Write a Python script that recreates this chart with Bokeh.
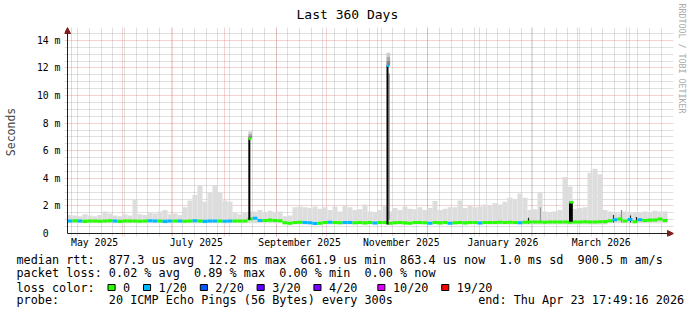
import re
import pandas as pd
from bokeh.plotting import figure
from bokeh.models import (FixedTicker, Grid, Arrow, NormalHead, Range1d, ColumnDataSource, Title)
from bokeh.embed import file_html
from bokeh.resources import INLINE

FONT = "DejaVu Sans Mono"

# ---------------- data ----------------
start = pd.Timestamp("2025-04-28 17:49:16")
end = pd.Timestamp("2026-04-23 17:49:16")
bucket_days = 3  # one value every 3 days

# smoke (ping spread) upper edge, ms, per 3-day bucket
smoke_top = [1.35, 1.3, 1.25, 1.4, 1.3, 1.25, 1.35, 1.6, 1.45, 1.3,
             1.25, 1.4, 1.3, 2.45, 1.4, 1.35, 1.5, 1.45, 1.6, 1.7,
             1.4, 1.45, 1.35, 1.9, 2.4, 2.8, 3.5, 2.3, 3.0, 3.5,
             3.0, 2.4, 2.3, 1.5, 1.4, 1.5, 1.6, 1.6, 1.7, 1.5,
             1.65, 1.55, 1.6, 1.25, 1.3, 1.9, 1.95, 1.9, 1.85, 1.95,
             1.8, 1.9, 1.7, 1.95, 1.6, 2.0, 1.9, 1.7, 1.75, 2.1,
             1.6, 1.55, 1.7, 2.0, 1.6, 1.85, 1.7, 1.95, 1.8, 1.75,
             1.9, 1.7, 1.85, 2.35, 1.7, 1.8, 1.9, 1.9, 2.4, 1.85,
             2.0, 1.9, 1.95, 2.1, 2.0, 2.2, 2.1, 2.3, 2.6, 2.5,
             2.9, 2.6, 1.7, 1.75, 3.0, 1.6, 1.55, 1.6, 1.7, 4.1,
             3.4, 1.8, 1.85, 1.9, 4.4, 4.7, 4.3, 1.7, 1.6, 1.5,
             1.45, 1.6, 1.5, 1.55, 1.5, 1.6, 1.55, 1.65, 1.6, 1.6]
# smoke lower edge, ms
smoke_min = [0.75] * 43 + [0.65] * 65 + [0.75] * 12
# median rtt, ms
median = [0.9, 0.92, 0.9, 0.88, 0.9, 0.91, 0.89, 0.9, 0.92, 0.9,
          0.88, 0.9, 0.91, 0.9, 0.89, 0.9, 0.92, 0.9, 0.9, 0.88,
          0.9, 0.91, 0.9, 0.89, 0.9, 0.92, 0.9, 0.88, 0.9, 0.91,
          0.9, 0.89, 0.9, 0.9, 0.91, 0.9, 1.05, 1.1, 0.95, 0.95,
          0.97, 0.95, 0.93, 0.78, 0.75, 0.8, 0.82, 0.8, 0.78, 0.72,
          0.75, 0.8, 0.82, 0.8, 0.78, 0.8, 0.8, 0.78, 0.8, 0.77,
          0.8, 0.76, 0.79, 0.8, 0.74, 0.78, 0.8, 0.77, 0.75, 0.79,
          0.8, 0.78, 0.74, 0.79, 0.77, 0.8, 0.75, 0.78, 0.8, 0.77,
          0.79, 0.8, 0.76, 0.8, 0.79, 0.8, 0.82, 0.8, 0.81, 0.8,
          0.78, 0.82, 0.83, 0.84, 0.83, 0.82, 0.83, 0.84, 0.83, 0.84,
          0.82, 0.84, 0.83, 0.85, 0.84, 0.83, 0.85, 0.86, 0.92, 1.0,
          1.05, 0.9, 1.02, 0.85, 1.0, 0.95, 0.97, 0.98, 1.05, 0.95]
# packet loss level index per bucket (0 -> 0/20, 1 -> 1/20)
loss = [1, 0, 1, 0, 0, 0, 0, 0, 0, 1, 0, 0, 0, 0, 0, 0, 1, 1, 0, 1,
        1, 0, 1, 0, 0, 1, 0, 1, 1, 1, 0, 1, 1, 0, 0, 0, 0, 1, 1, 0,
        0, 0, 0, 0, 0, 0, 0, 1, 1, 1, 0, 0, 1, 0, 0, 1, 1, 0, 0, 0,
        0, 1, 0, 0, 0, 0, 0, 0, 0, 0, 0, 0, 1, 0, 0, 0, 1, 0, 0, 0,
        0, 0, 1, 0, 0, 0, 0, 0, 0, 0, 1, 0, 0, 0, 0, 0, 0, 0, 0, 0,
        0, 0, 0, 0, 0, 0, 0, 0, 0, 1, 0, 0, 1, 0, 1, 0, 0, 0, 0, 0]

loss_labels = ["0", "1/20", "2/20", "3/20", "4/20", "10/20", "19/20"]
loss_colors = ["#26ff00", "#00b8ff", "#0059ff", "#5e00ff", "#7e00ff", "#dd00ff", "#ff0000"]

# short latency spikes (day offset from start)
spike_day = [109.1, 192.0, 301.5, 302.6]
spike_low = [1.0, 0.65, 0.85, 0.85]
spike_high = [6.9, 12.2, 2.3, 2.3]
spike_loss = [0, 1, 0, 0]
spike_smoke_top = [7.4, 13.1, 2.3, 2.3]

# darker smoke streaks
dark_day = [193.0, 276.6, 283.8, 327.6, 332.4, 337.8, 341.4]
dark_low = [1.0, 0.72, 0.85, 0.8, 0.8, 0.8, 0.85]
dark_high = [11.6, 1.15, 1.9, 1.35, 1.7, 1.3, 1.2]
dark_color = ["#8a8a8a", "#222222", "#9a9a9a", "#333333", "#8a8a8a", "#333333", "#222222"]

y_major = [0, 2, 4, 6, 8, 10, 12, 14]
y_major_labels = ["0\u00a0\u00a0", "2 m", "4 m", "6 m", "8 m", "10 m", "12 m", "14 m"]
y_minor = [0.5, 1, 1.5, 2.5, 3, 3.5, 4.5, 5, 5.5, 6.5, 7, 7.5, 8.5, 9, 9.5,
           10.5, 11, 11.5, 12.5, 13, 13.5, 14.5]

label_dates = ["2025-05-15", "2025-07-15", "2025-09-15", "2025-11-15", "2026-01-15", "2026-03-15"]
label_texts = ["May 2025", "July 2025", "September 2025", "November 2025", "January 2026", "March 2026"]

title_text = "Last 360 Days"
credit_text = "RRDTOOL / TOBI OETIKER"
stats_line = "median rtt:  877.3 us avg  12.2 ms max  661.9 us min  863.4 us now  1.0 ms sd  900.5 m am/s"
loss_line = "packet loss: 0.02 % avg  0.89 % max  0.00 % min  0.00 % now"
loss_title = "loss color:"
probe_line = "probe:       20 ICMP Echo Pings (56 Bytes) every 300s            end: Thu Apr 23 17:49:16 2026"


def keep_spaces(s):
    return re.sub(r" {2,}", lambda m: "\u00a0" * len(m.group()), s)


def day_of(ts):
    return round((pd.Timestamp(ts) - start) / pd.Timedelta(days=1), 6)


span = day_of(end)
month_starts = [day_of(d) for d in pd.date_range("2025-05-01", "2026-04-01", freq="MS")]
week_starts = [day_of(d) for d in pd.date_range("2025-05-05", "2026-04-20", freq="7D")]
label_pos = [day_of(d) for d in label_dates]

# ---------------- layout geometry (pixels) ----------------
PX_PER_DAY = 600 / span
PX_PER_MS = 200 / 14.5
FL, FT, FW, FH = 64, 27, 609, 209          # frame left/top/width/height
x_lo = -(67 - FL) / PX_PER_DAY
x_hi = x_lo + FW / PX_PER_DAY
y_lo = -(FT + FH - 233) / PX_PER_MS
y_hi = y_lo + FH / PX_PER_MS

p = figure(width=697, height=315, frame_width=FW, frame_height=FH,
           x_range=Range1d(x_lo, x_hi), y_range=Range1d(y_lo, y_hi),
           output_backend="svg", toolbar_location=None,
           min_border_left=FL, min_border_right=697 - FL - FW, min_border_top=FT,
           min_border_bottom=315 - FT - FH,
           background_fill_color="white", border_fill_color="white", outline_line_color=None)
p.grid.visible = False

GRID_C = "#8f8f8f"
MGRID_C = "#de4f4f"
for dim, ticks, col, alpha in [(0, week_starts, GRID_C, 0.55), (1, y_minor, GRID_C, 0.55),
                               (0, month_starts, MGRID_C, 0.5), (1, y_major[1:], MGRID_C, 0.5)]:
    p.add_layout(Grid(dimension=dim, ticker=FixedTicker(ticks=ticks), grid_line_color=col,
                      grid_line_alpha=alpha, grid_line_dash="1 1", grid_line_width=1))

left = [i * bucket_days for i in range(len(smoke_top))]
right = [l + bucket_days for l in left]
src = ColumnDataSource(dict(
    left=left, right=right, smin=smoke_min, stop=smoke_top,
    mlo=[m - 0.11 for m in median], mhi=[m + 0.11 for m in median],
    color=[loss_colors[l] for l in loss]))

p.quad(left="left", right="right", bottom="smin", top="stop", source=src,
       fill_color="#dddddd", line_color=None)

# smoke gradient above spikes
sg_l, sg_r, sg_b, sg_t, sg_c = [], [], [], [], []
for d, h, t in zip(spike_day, spike_high, spike_smoke_top):
    if t > h:
        step = (t - h) / 3
        for k, c in enumerate(["#888888", "#aaaaaa", "#cccccc"]):
            sg_l.append(d - 0.6); sg_r.append(d + 1.6)
            sg_b.append(h + k * step); sg_t.append(h + (k + 1) * step); sg_c.append(c)
p.quad(left=sg_l, right=sg_r, bottom=sg_b, top=sg_t, fill_color=sg_c, line_color=None)

p.segment(x0=dark_day, y0=dark_low, x1=dark_day, y1=dark_high, line_color=dark_color, line_width=1.2)

p.quad(left="left", right="right", bottom="mlo", top="mhi", source=src,
       fill_color="color", line_color=None)

p.segment(x0=spike_day, y0=spike_low, x1=spike_day, y1=spike_high, line_color="black", line_width=2)
p.quad(left=[d - 0.5 for d in spike_day], right=[d + 1.2 for d in spike_day],
       bottom=[h - 0.12 for h in spike_high], top=[h + 0.04 for h in spike_high],
       fill_color=[loss_colors[l] for l in spike_loss], line_color=None)

# ---------------- axes ----------------
p.yaxis.ticker = FixedTicker(ticks=y_major)
p.yaxis.major_label_overrides = {t: s for t, s in zip(y_major, y_major_labels)}
p.yaxis.minor_tick_line_color = None
p.yaxis.major_tick_line_color = None
p.yaxis.major_tick_out = 0
p.yaxis.major_tick_in = 0
p.yaxis.major_label_standoff = 4
p.yaxis.major_label_text_font = FONT
p.yaxis.major_label_text_font_size = "9.8px"
p.yaxis.major_label_text_color = "black"
p.yaxis.axis_label = "Seconds"
p.yaxis.axis_label_text_font = FONT
p.yaxis.axis_label_text_font_style = "normal"
p.yaxis.axis_label_text_font_size = "11.5px"
p.yaxis.axis_label_standoff = 16
p.yaxis.axis_line_color = None

p.xaxis.ticker = FixedTicker(ticks=label_pos)
p.xaxis.major_label_overrides = {t: s for t, s in zip(label_pos, label_texts)}
p.xaxis.minor_tick_line_color = None
p.xaxis.major_tick_line_color = None
p.xaxis.major_tick_out = 0
p.xaxis.major_tick_in = 0
p.xaxis.major_label_standoff = 0
p.xaxis.major_label_text_font = FONT
p.xaxis.major_label_text_font_size = "9.8px"
p.xaxis.major_label_text_color = "black"
p.xaxis.axis_line_color = None

# axis lines with arrow heads
head = dict(size=6, fill_color="#801f1f", line_color="#801f1f")
p.add_layout(Arrow(end=NormalHead(**head), x_start=0, y_start=0, x_end=0, y_end=y_hi,
                   line_color="#1f1f1f", line_width=1))
p.add_layout(Arrow(end=NormalHead(**head), x_start=0, y_start=0, x_end=x_hi, y_end=0,
                   line_color="#1f1f1f", line_width=1))

# ---------------- title and credit ----------------
p.title.text = title_text
p.title.align = "left"
p.title.offset = 296 - FL
p.title.standoff = 8.9
p.title.vertical_align = "middle"
p.title.text_font = FONT
p.title.text_font_size = "13px"
p.title.text_font_style = "normal"
p.title.text_color = "black"

p.add_layout(Title(text=credit_text, align="left", offset=3 - FT, standoff=3.9,
                   vertical_align="middle", text_font=FONT, text_font_size="8.3px",
                   text_font_style="normal", text_color="#aaaaaa"), "right")

# ---------------- legend rows below the x axis ----------------
TXT = "11.8px"
T_H = 13.7       # approx. text box height of the legend font
CHAR_W = 7.1     # monospace advance at that size


def row(text, standoff, x=16):
    return Title(text=text, align="left", offset=x - FL, standoff=standoff,
                 vertical_align="middle", text_font=FONT, text_font_size=TXT,
                 text_font_style="normal", text_color="black")


def spacer(size):
    return Title(text="\u00a0", text_font_size="1px", standoff=size - 3.16)


# loss color row: label columns (monospace) and boxes before each label
label_cols = [15, 20, 28, 36, 44, 53, 62]
loss_row = loss_title
for col, lab in zip(label_cols, loss_labels):
    loss_row += "\u00a0" * (col - len(loss_row)) + lab

p.add_layout(spacer(2.0), "below")
p.add_layout(row(keep_spaces(stats_line), 13.5 - 2 - T_H), "below")
p.add_layout(row(keep_spaces(loss_line), 12.5 - 2 - T_H), "below")
p.add_layout(spacer(8.25), "below")
# zero-height rows: text and colour boxes share the same centre line
p.add_layout(row(loss_row, -(2 + T_H)), "below")
BOX_FS = 5.9
for col, c in zip(label_cols, loss_colors):
    p.add_layout(Title(text="\u00a0\u00a0", align="left", offset=16 + col * CHAR_W - 15 - FL,
                       standoff=-(2 + 1.164 * BOX_FS), vertical_align="middle",
                       text_font=FONT, text_font_size=f"{BOX_FS}px",
                       background_fill_color=c, border_line_color="black", border_line_width=1),
                 "below")
p.add_layout(spacer(6.5), "below")
p.add_layout(row(keep_spaces(probe_line), 13 - 2 - T_H), "below")

open("out.html", "w").write(file_html(p, INLINE))
